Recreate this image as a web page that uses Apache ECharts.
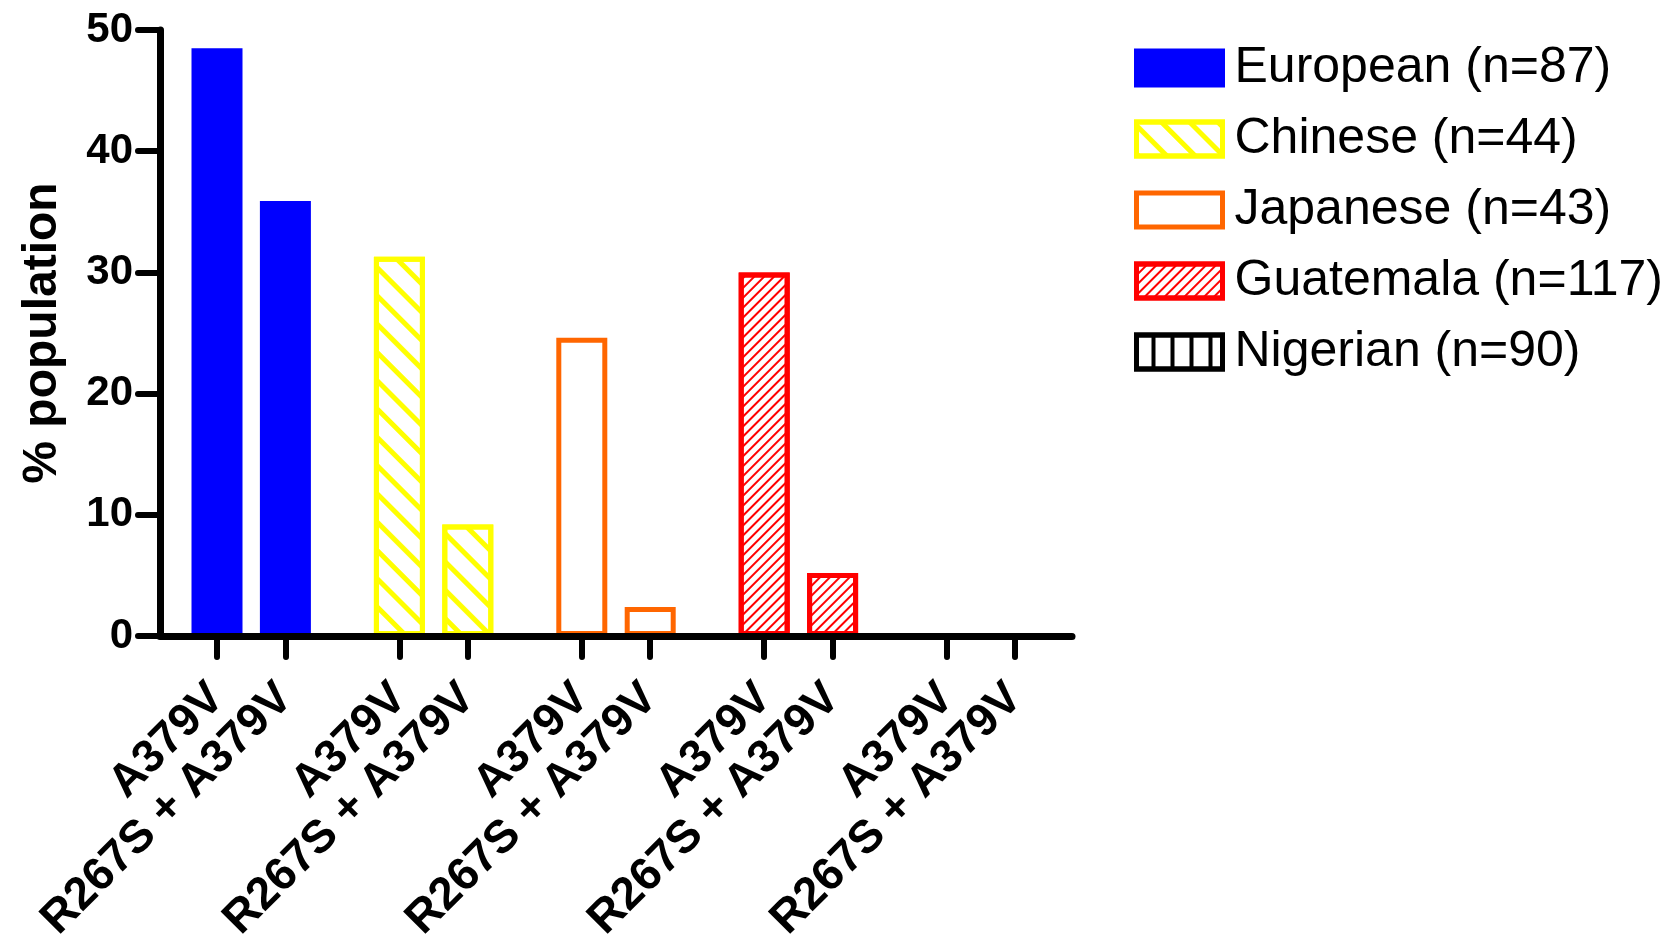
<!DOCTYPE html>
<html><head><meta charset="utf-8">
<script src="https://cdn.jsdelivr.net/npm/echarts@6/dist/echarts.min.js"></script>
<style>html,body{margin:0;padding:0;background:#fff}#c{width:1668px;height:935px}</style>
</head><body><div id="c"></div>
<script>
// ---- data ----
const groups = ['European (n=87)', 'Chinese (n=44)', 'Japanese (n=43)', 'Guatemala (n=117)', 'Nigerian (n=90)'];
const genotypes = ['A379V', 'R267S + A379V'];
const european = [48.5, 35.9];
const chinese = [31.3, 9.2];
const japanese = [24.6, 2.4];
const guatemala = [30.0, 5.2];
const nigerian = [0, 0];
const yTicks = [0, 10, 20, 30, 40, 50];

const values = [european, chinese, japanese, guatemala, nigerian];
// category slots: each group takes 8 slots, bars at slot 2 and 5
const SLOTS = 8, OFFS = [2, 5];
const categories = [], barSlots = [];
groups.forEach((g, gi) => {
  for (let s = 0; s < SLOTS; s++) {
    const k = OFFS.indexOf(s);
    categories.push(k >= 0 ? genotypes[k] : '');
    if (k >= 0) barSlots.push(gi * SLOTS + s);
  }
});

const FONT = 'Liberation Sans, Arial, Helvetica, sans-serif';
function stripes(color, thick, gap, rot) {
  return { symbol: 'rect', symbolSize: 1, symbolKeepAspect: false, color: color, backgroundColor: null,
           dashArrayX: [[20, 0]], dashArrayY: [thick, gap], rotation: rot };
}
const looks = [
  { fill: '#0000FF', border: '#0000FF', decal: null },
  { fill: '#FFFFFF', border: '#FFFF00', decal: stripes('#FFFF00', 5, 15, Math.PI / 4) },
  { fill: '#FFFFFF', border: '#FF6600', decal: null },
  { fill: '#FFFFFF', border: '#FF0000', decal: stripes('#FF0000', 2, 5, -Math.PI / 4) },
  { fill: '#FFFFFF', border: '#000000', decal: stripes('#000000', 4, 15, Math.PI / 2) }
];

const series = groups.map((name, gi) => {
  const st = { color: looks[gi].fill, borderColor: looks[gi].border, borderWidth: 5 };
  if (looks[gi].decal) st.decal = looks[gi].decal;
  return {
    type: 'bar', name: name, barWidth: 51, barGap: '-100%', z: 2,
    data: categories.map((c, i) => {
      const g = Math.floor(i / SLOTS), k = OFFS.indexOf(i % SLOTS);
      return (g === gi && k >= 0) ? values[gi][k] : '-';
    }),
    itemStyle: st
  };
});

const chart = echarts.init(document.getElementById('c'), null, { renderer: 'canvas' });
chart.setOption({
  animation: false,
  backgroundColor: '#fff',
  textStyle: { fontFamily: FONT, color: '#000' },
  grid: { left: 160, right: 596, top: 30, bottom: 299, containLabel: false, outerBoundsMode: 'none' },
  legend: {
    orient: 'vertical', left: 1134, top: 43, padding: 0,
    itemWidth: 86, itemHeight: 34, itemGap: 21, icon: 'rect',
    itemStyle: { borderWidth: 5 },
    textStyle: { fontFamily: FONT, fontSize: 50, color: '#000', padding: [0, 0, 0, 7] },
    data: groups
  },
  xAxis: {
    type: 'category', data: categories, z: 5,
    axisLine: { show: true, lineStyle: { color: '#000', width: 7, cap: 'round' } },
    axisTick: { show: true, alignWithLabel: true, interval: (i) => barSlots.includes(i), length: 21,
                lineStyle: { color: '#000', width: 6, cap: 'round' } },
    axisLabel: { interval: (i) => barSlots.includes(i), rotate: 45, margin: 55,
                 fontSize: 46, fontWeight: 'bold', fontFamily: FONT, color: '#000' },
    splitLine: { show: false }
  },
  yAxis: {
    type: 'value', min: yTicks[0], max: yTicks[yTicks.length - 1], interval: yTicks[1] - yTicks[0], z: 5,
    name: '% population', nameLocation: 'middle', nameGap: 93,
    nameTextStyle: { fontSize: 48, fontWeight: 'bold', fontFamily: FONT, color: '#000' },
    axisLine: { show: true, lineStyle: { color: '#000', width: 7, cap: 'round' } },
    axisTick: { show: true, length: 22, lineStyle: { color: '#000', width: 6, cap: 'round' } },
    axisLabel: { fontSize: 42, fontWeight: 'bold', margin: 27, fontFamily: FONT, color: '#000' },
    splitLine: { show: false }
  },
  series: series
});
</script></body></html>
